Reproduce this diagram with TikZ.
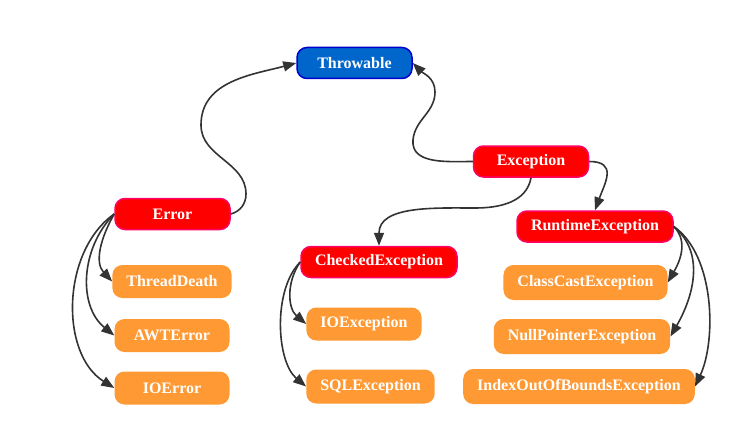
\documentclass[tikz,border=0pt]{standalone}
\usepackage{fontspec}
\setmainfont{Liberation Serif}
\usetikzlibrary{arrows.meta}
\definecolor{rootblue}{HTML}{0066CC}
\definecolor{rootline}{HTML}{0000CC}
\definecolor{midred}{HTML}{FF0000}
\definecolor{midline}{HTML}{FF0066}
\definecolor{leaforange}{HTML}{FF9933}
\definecolor{linkgray}{HTML}{333333}
\begin{document}
\begin{tikzpicture}[x=1pt,y=1pt,
      box/.style={rounded corners=10pt,minimum height=31pt,minimum width=115pt,
        inner xsep=14pt,text=white,font=\fontsize{16}{19}\selectfont\bfseries},
      root/.style={box,fill=rootblue,draw=rootline,line width=1.5pt},
      mid/.style={box,fill=midred,draw=midline,line width=1.5pt},
      leaf/.style={box,fill=leaforange,minimum height=33pt},
      link/.style={draw=linkgray,line width=1.6pt,-{Triangle[length=13pt,width=10pt]}}]
      \useasboundingbox (0,0) rectangle (756,-436);
      \path (354.5,-63) node[root] (throwable) {Throwable};
      \path (531,-161.5) node[mid] (exception) {Exception};
      \path (172.5,-214) node[mid] (error) {Error};
      \path (595,-226.5) node[mid] (runtime) {RuntimeException};
      \path (379,-262) node[mid] (checked) {CheckedException};
      \path (172,-281.5) node[leaf] (threaddeath) {ThreadDeath};
      \path (172,-335.5) node[leaf] (awterror) {AWTError};
      \path (172,-388) node[leaf] (ioerror) {IOError};
      \path (364,-324) node[leaf] (ioexception) {IOException};
      \path (370.5,-386.5) node[leaf,minimum height=34pt] (sqlexception) {SQLException};
      \path (585.5,-282.5) node[leaf,minimum height=35pt] (classcast) {ClassCastException};
      \path (582,-336.5) node[leaf,minimum height=35pt] (nullpointer) {NullPointerException};
      \path (579,-386.5) node[leaf,minimum height=35pt] (indexout) {IndexOutOfBoundsException};
      \draw[link] (error.east) to[out=15,in=-90] (246,-194) to[out=90,in=-90] (201,-125)
        to[out=90,in=195] (throwable.west);
      \draw[link] (exception.west) to[out=180,in=-95] (413,-140) to[out=85,in=-90] (435,-92)
        to[out=90,in=-45] (throwable.east);
      \draw[link] (exception.south) to[out=-100,in=0] (475,-208) to[out=180,in=90] (checked.north);
      \draw[link] (exception.east) to[out=0,in=70,looseness=1.5] (runtime.north);
      \draw[link] (error.west) to[out=240,in=133] (threaddeath.west);
      \draw[link] (error.west) to[out=225,in=141] (awterror.west);
      \draw[link] (error.west) to[out=215,in=148,looseness=0.95] (ioerror.west);
      \draw[link] (checked.west) to[out=235,in=140] (ioexception.west);
      \draw[link] (checked.west) to[out=225,in=140,looseness=0.8] (sqlexception.west);
      \draw[link] (runtime.east) to[out=-45,in=60] (classcast.east);
      \draw[link] (runtime.east) to[out=-40,in=60] (nullpointer.east);
      \draw[link] (runtime.east) to[out=-35,in=65,looseness=0.8] (indexout.east);
\end{tikzpicture}
\end{document}
